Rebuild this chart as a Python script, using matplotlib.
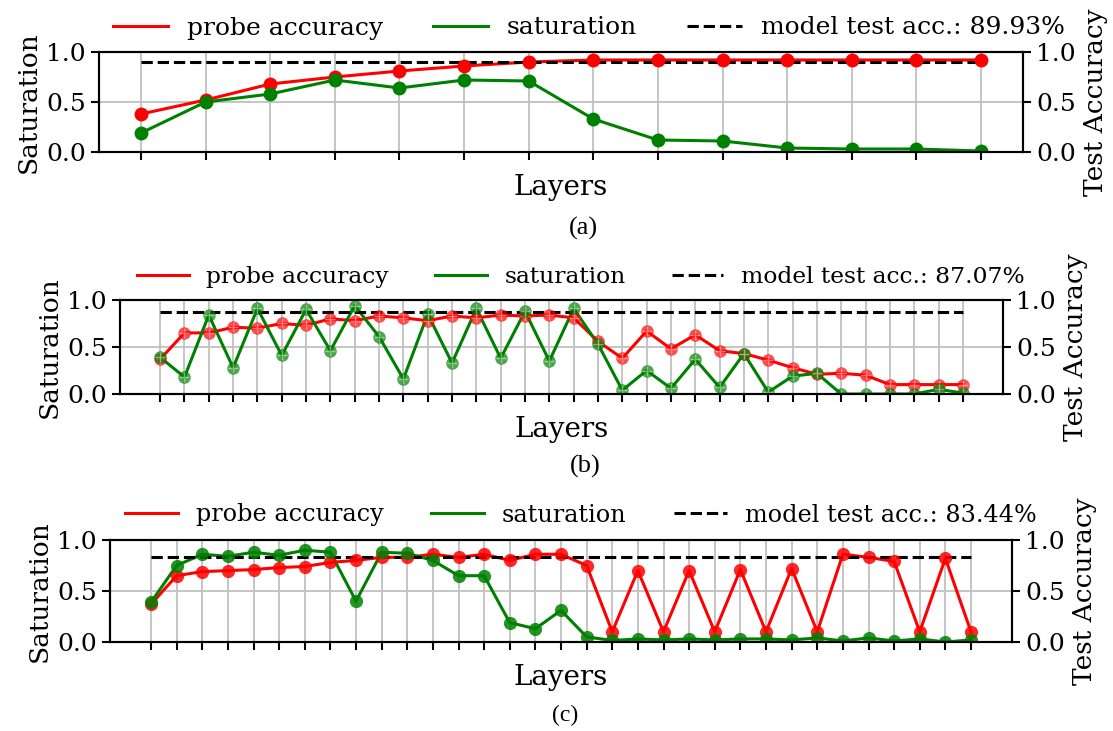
import numpy as np
import matplotlib
matplotlib.use("Agg")
import matplotlib.pyplot as plt

# (a) probe accuracy / saturation per layer
acc_a = [0.38, 0.52, 0.68, 0.75, 0.81, 0.86, 0.90, 0.92, 0.92, 0.92, 0.92, 0.92, 0.92, 0.92]
sat_a = [0.19, 0.50, 0.58, 0.72, 0.64, 0.72, 0.71, 0.33, 0.12, 0.11, 0.04, 0.03, 0.03, 0.01]
test_a = 0.8993

# (b)
acc_b = [0.37, 0.65, 0.65, 0.71, 0.70, 0.75, 0.73, 0.80, 0.78, 0.83, 0.81, 0.78,
         0.83, 0.81, 0.84, 0.83, 0.84, 0.81, 0.56, 0.38, 0.67, 0.48, 0.63, 0.46,
         0.43, 0.36, 0.28, 0.21, 0.22, 0.20, 0.10, 0.10, 0.10, 0.10]
sat_b = [0.39, 0.18, 0.84, 0.28, 0.91, 0.41, 0.90, 0.46, 0.94, 0.61, 0.16, 0.85,
         0.33, 0.91, 0.38, 0.88, 0.35, 0.91, 0.53, 0.04, 0.25, 0.06, 0.37, 0.07,
         0.43, 0.02, 0.19, 0.22, 0.0, 0.0, 0.0, 0.0, 0.05, 0.01]
test_b = 0.8707

# (c)
acc_c = [0.37, 0.65, 0.69, 0.70, 0.71, 0.73, 0.74, 0.78, 0.80, 0.83, 0.83, 0.86,
         0.83, 0.86, 0.80, 0.86, 0.86, 0.75, 0.10, 0.70, 0.10, 0.70, 0.10, 0.71,
         0.10, 0.72, 0.10, 0.86, 0.83, 0.79, 0.10, 0.82, 0.10]
sat_c = [0.39, 0.75, 0.86, 0.84, 0.88, 0.85, 0.90, 0.88, 0.40, 0.88, 0.87, 0.80,
         0.65, 0.65, 0.19, 0.13, 0.31, 0.05, 0.015, 0.03, 0.02, 0.03, 0.02, 0.03,
         0.03, 0.02, 0.04, 0.01, 0.04, 0.01, 0.03, 0.0, 0.02]
test_c = 0.8344

plt.rcParams['font.family'] = 'DejaVu Serif'
plt.rcParams['axes.linewidth'] = 1.5

fig = plt.figure(figsize=(11.13, 7.31), dpi=100)
W, H = 1113.0, 731.0


def panel(box, acc, sat, test, caption, cap_xy, leg_xy, ms, alpha, cross,
          leg_size=18, cap_size=19):
    x0, y0, x1, y1 = box
    ax = fig.add_axes([x0 / W, 1 - y1 / H, (x1 - x0) / W, (y1 - y0) / H])
    layers = np.arange(len(acc))

    l1, = ax.plot(layers, acc, color='red', lw=2.2, label='probe accuracy')
    l2, = ax.plot(layers, sat, color='green', lw=2.2, label='saturation')
    l3, = ax.plot([layers[0], layers[-1]], [test, test], 'k--', lw=2.2,
                  label='model test acc.: %.2f%%' % (test * 100))
    for vals, c in [(acc, 'red'), (sat, 'green')]:
        ax.plot(layers, vals, 'o', color=c, ms=ms, alpha=alpha, mew=0)
        if cross:
            ax.plot(layers, vals, '+', color='white', ms=ms * 0.8, mew=1, alpha=0.45)

    ax.set_ylim(0, 1)
    ax.set_xticks(layers)
    ax.set_xticklabels([])
    ax.set_yticks([0, 0.5, 1.0])
    ax.grid(True, color='#c0c0c0', lw=1.3)
    ax.set_axisbelow(True)
    ax.tick_params(length=6, width=1.5, labelsize=18)
    ax.set_xlabel('Layers', fontsize=20, labelpad=6)
    ax.set_ylabel('Saturation', fontsize=19, labelpad=4)

    ax2 = ax.twinx()
    ax2.set_ylim(0, 1)
    ax2.set_yticks([0, 0.5, 1.0])
    ax2.tick_params(length=6, width=1.5, labelsize=18)
    ax2.set_ylabel('Test Accuracy', fontsize=19, labelpad=5)

    fig.legend(handles=[l1, l2, l3], loc='center',
               bbox_to_anchor=(leg_xy[0] / W, 1 - leg_xy[1] / H),
               ncol=3, frameon=False, fontsize=leg_size, handlelength=2.2,
               handletextpad=0.75, columnspacing=2.0)
    fig.text(cap_xy[0] / W, 1 - cap_xy[1] / H, caption, ha='center', va='center',
             fontsize=cap_size, fontfamily='Liberation Serif')


panel((99, 52, 1023, 152), acc_a, sat_a, test_a, '(a)', (583, 228), (589, 28),
      ms=10, alpha=1.0, cross=False, leg_size=18)
panel((120, 300, 1003, 394), acc_b, sat_b, test_b, '(b)', (585, 466), (581, 277),
      ms=9, alpha=0.7, cross=True, leg_size=16.8)
panel((110, 540, 1012, 642), acc_c, sat_c, test_c, '(c)', (565, 715), (581, 515),
      ms=9.5, alpha=0.85, cross=False, leg_size=17.2, cap_size=17)

fig.savefig('out.png', dpi=100)
